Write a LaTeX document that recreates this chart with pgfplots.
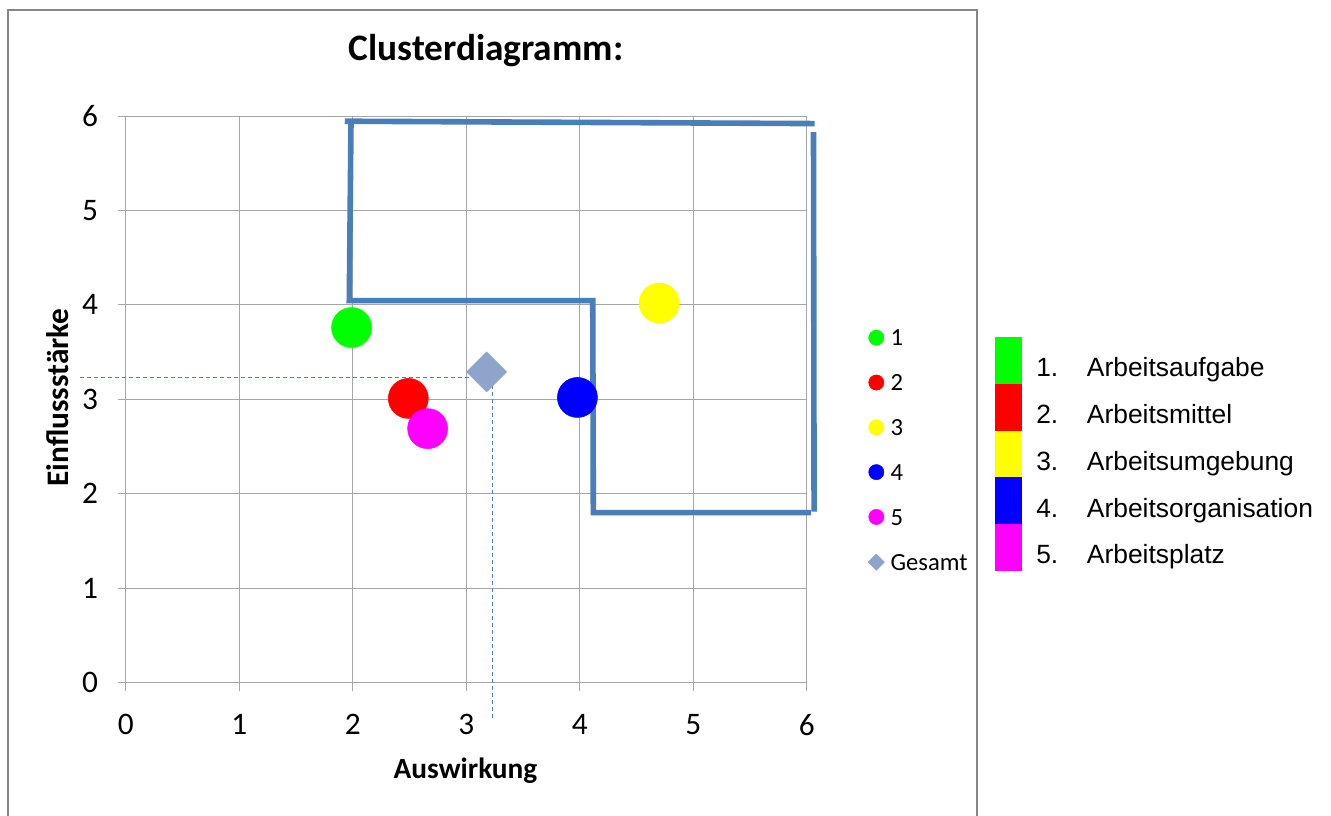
\documentclass[border=0pt]{standalone}
\usepackage{pgfplots}
\pgfplotsset{compat=1.18}
\usepackage{fontspec}
\setmainfont{Carlito}
\newfontfamily\arial{Liberation Sans}
\definecolor{gridgray}{RGB}{166,166,166}
\definecolor{framegray}{RGB}{134,134,134}
\definecolor{polyblue}{RGB}{74,126,187}
\definecolor{gesamt}{RGB}{142,164,203}
\definecolor{dashblue}{RGB}{79,129,189}
\definecolor{cgreen}{RGB}{0,255,0}
\definecolor{cred}{RGB}{255,0,0}
\definecolor{cyellow}{RGB}{255,255,0}
\definecolor{cblue}{RGB}{0,0,255}
\definecolor{cmagenta}{RGB}{255,0,255}
\begin{document}
\begin{tikzpicture}[x=0.75pt,y=0.75pt]
\path[use as bounding box] (0,0) rectangle (1331,816);
\draw[framegray, line width=1.5pt] (8.3,0) -- (8.3,805.7) -- (976.5,805.7) -- (976.5,0);
\begin{axis}[
  at={(94.275pt,99.98pt)}, anchor=south west,
  scale only axis, width=510.75pt, height=425pt,
  xmin=0, xmax=6, ymin=0, ymax=6,
  xtick={0,1,2,3,4,5,6}, ytick={0,1,2,3,4,5,6},
  grid=major, grid style={gridgray, line width=0.75pt},
  axis line style={gridgray, line width=0.75pt},
  tick style={gridgray, line width=0.75pt},
  tick align=outside, major tick length=6pt,
  xtick pos=left, ytick pos=left,
  clip=false,
  /pgf/number format/assume math mode=true,
  tick label style={font=\fontsize{23.5}{27}\selectfont},
  xticklabel style={anchor=north, inner sep=0pt, yshift=-17.5pt},
  yticklabel style={anchor=east, inner sep=0pt, xshift=-14.5pt},
  title={Clusterdiagramm:},
  title style={font=\bfseries\fontsize{28}{32}\selectfont, at={(axis description cs:0.529,1.083)}, anchor=base, inner sep=0pt},
  xlabel={Auswirkung},
  xlabel style={font=\bfseries\fontsize{22}{26}\selectfont, at={(axis description cs:0.499,-0.1694)}, anchor=base, inner sep=0pt},
  ylabel={Einflussstärke},
  ylabel style={font=\bfseries\fontsize{23.5}{27}\selectfont, at={(axis description cs:-0.0847,0.5033)}, anchor=base, inner sep=0pt, rotate=0},
  legend style={at={(axis description cs:1.0903,0.6224)}, anchor=north west, draw=none, fill=none,
    inner sep=0pt, outer sep=0pt, font=\fontsize{18.5}{20}\selectfont, row sep=16pt, column sep=4.6pt,
    nodes={inner sep=0pt, text height=12pt, text depth=5.6pt}},
  legend cell align=left,
  legend image code/.code={\draw[mark size=5.7pt] plot coordinates {(0pt,3pt)};},
]
\addplot[only marks, mark=*, mark size=15pt, color=cgreen, mark options={draw=cgreen, fill=cgreen}] coordinates {(1.99,3.76)};
\addlegendentry{1}
\addplot[only marks, mark=*, mark size=15pt, color=cred, mark options={draw=cred, fill=cred}] coordinates {(2.49,3.01)};
\addlegendentry{2}
\addplot[only marks, mark=*, mark size=15pt, color=cyellow, mark options={draw=cyellow, fill=cyellow}] coordinates {(4.70,4.02)};
\addlegendentry{3}
\addplot[only marks, mark=*, mark size=15pt, color=cblue, mark options={draw=cblue, fill=cblue}] coordinates {(3.98,3.02)};
\addlegendentry{4}
\addplot[only marks, mark=*, mark size=15pt, color=cmagenta, mark options={draw=cmagenta, fill=cmagenta}] coordinates {(2.66,2.69)};
\addlegendentry{5}
\addplot[only marks, mark=square*, mark size=10.6pt, color=gesamt, mark options={rotate=45, draw=gesamt, fill=gesamt},
  legend image code/.code={\draw[mark size=4.3pt] plot coordinates {(0pt,3pt)};}] coordinates {(3.18,3.29)};
\addlegendentry{Gesamt}
\addplot[forget plot, dashblue, line width=0.9pt, dash pattern=on 3pt off 2.25pt] coordinates {(-0.40,3.235) (3.235,3.235) (3.235,-0.39)};
\addplot[forget plot, polyblue, line width=4.2pt] coordinates {(1.93,5.945) (6.07,5.92)};
\addplot[forget plot, polyblue, line width=4.2pt] coordinates {(1.985,5.93) (1.97,4.045) (4.115,4.045) (4.12,1.80) (6.04,1.80)};
\addplot[forget plot, polyblue, line width=4.2pt] coordinates {(6.06,5.83) (6.065,1.81)};
\end{axis}
\foreach \c [count=\k from 0] in {cgreen,cred,cyellow,cblue,cmagenta}{
  \fill[\c] (995,{816-337.3-46.7*\k}) rectangle (1021.7,{816-337.3-46.7*(\k+1)});
}
\foreach \t/\n [count=\k from 0] in {Arbeitsaufgabe/1,Arbeitsmittel/2,Arbeitsumgebung/3,Arbeitsorganisation/4,Arbeitsplatz/5}{
  \node[anchor=base west, inner sep=0pt, font=\arial\fontsize{19.8}{22}\selectfont] at (1036,{816-376.7-46.8*\k}) {\n.};
  \node[anchor=base west, inner sep=0pt, font=\arial\fontsize{19.8}{22}\selectfont] at (1086.7,{816-376.7-46.8*\k}) {\t};
}
\end{tikzpicture}
\end{document}
